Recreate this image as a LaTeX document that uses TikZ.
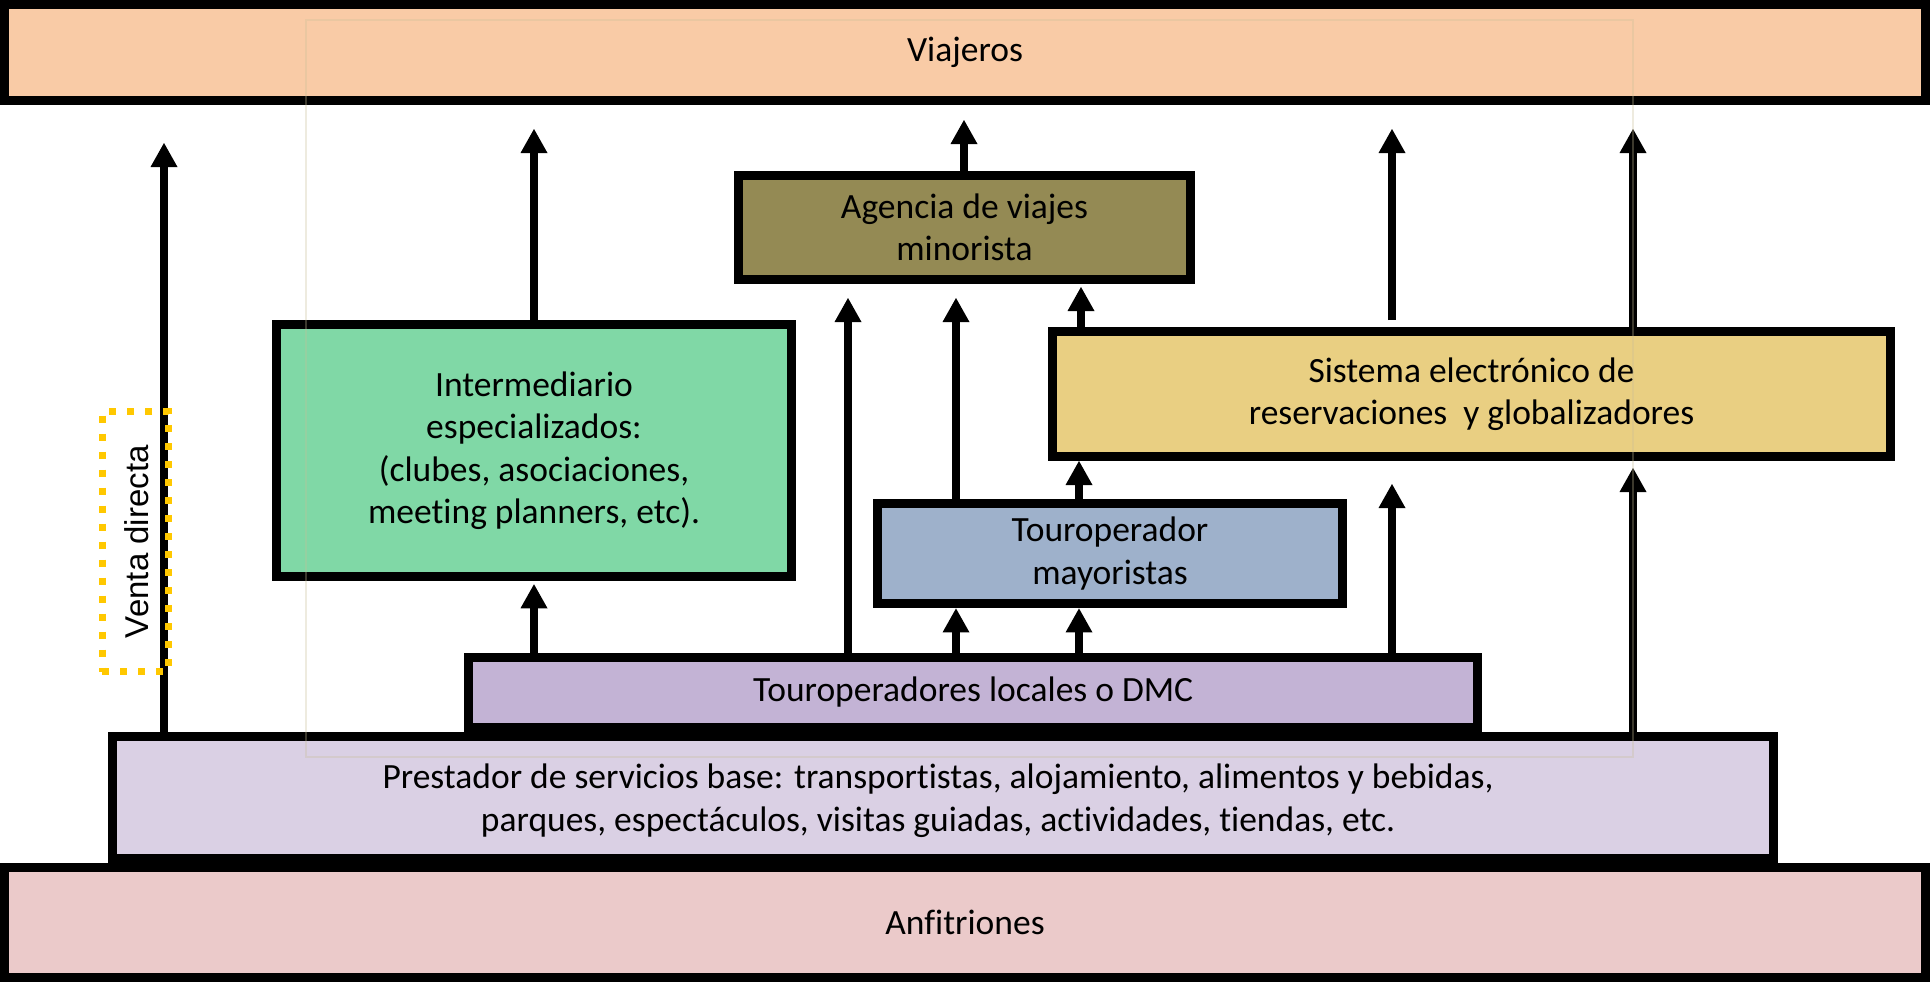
\documentclass[tikz,border=0pt]{standalone}
\usepackage{fontspec}
\setmainfont{Carlito}[Ligatures=NoCommon]
\newfontfamily\ventafont{Liberation Sans}
\usetikzlibrary{arrows.meta,calc}
\definecolor{cviaj}{HTML}{F9CBA6}
\definecolor{cagen}{HTML}{948A54}
\definecolor{cinter}{HTML}{80D8A6}
\definecolor{csist}{HTML}{E9CF82}
\definecolor{cmayor}{HTML}{9EB1CB}
\definecolor{cloc}{HTML}{C3B3D5}
\definecolor{cprest}{HTML}{DAD0E4}
\definecolor{canfi}{HTML}{EBCACA}
\definecolor{cventa}{HTML}{FFC800}
\definecolor{cfaint}{RGB}{200,190,150}
\begin{document}
\begin{tikzpicture}[x=1pt,y=-1pt,
  txt/.style={align=center,inner sep=0pt,text=black,font=\fontsize{35.5}{42.5}\selectfont},
  box/.style={draw=black,line width=9pt,txt},
  arr/.style={line width=8.5pt,-{Triangle[length=24pt,width=27pt,line width=0pt]}},
  ventabox/.style={draw=cventa,line width=7pt,dash pattern=on 7pt off 11pt},
]
\useasboundingbox (0,0) rectangle (1930,982);

% boxes
\node[box,fill=cviaj,minimum width=1921pt,minimum height=96pt] (viaj) at (965,52.5) {Viajeros};
\node[box,fill=cagen,minimum width=452pt,minimum height=104pt] (agen) at (964.5,227.5) {Agencia de viajes\\minorista};
\node[box,fill=cinter,minimum width=515pt,minimum height=251.5pt] (inter) at (534,450.5) {Intermediario\\especializados:\\(clubes, asociaciones,\\meeting planners, etc).};
\node[box,fill=csist,minimum width=838pt,minimum height=125pt] (sist) at (1471.5,394) {Sistema electrónico de\\reservaciones\ \ y globalizadores};
\node[box,fill=cmayor,minimum width=465pt,minimum height=100.5pt] (mayor) at (1110,553.7) {Touroperador\\mayoristas};
\node[box,fill=cprest,minimum width=1661pt,minimum height=122pt] (prest) at (943,797.5) {};
\node[txt] (prestt) at (938,800.5) {Prestador de servicios base: transportistas, alojamiento, alimentos y bebidas,\\parques, espectáculos, visitas guiadas, actividades, tiendas, etc.};
\node[box,fill=cloc,minimum width=1009.5pt,minimum height=70pt] (loc) at (973.2,692.5) {Touroperadores locales o DMC};
\node[box,fill=canfi,minimum width=1921pt,minimum height=110pt] (anfi) at (965,922.5) {Anfitriones};

% x positions of arrows
\coordinate (a1) at (164,0);
\coordinate (a2) at (534,0);
\coordinate (a3) at (964,0);
\coordinate (a4) at (1392,0);
\coordinate (a5) at (1633,0);
\coordinate (a6) at (848,0);
\coordinate (a7) at (956,0);
\coordinate (a8) at (1081,0);
\coordinate (a11) at (1079,0);

% arrows to Viajeros
\draw[arr] (prest.north -| a1) -- ($(viaj.south -| a1)+(0,38)$);
\draw[arr] (inter.north -| a2) -- ($(viaj.south -| a2)+(0,24)$);
\draw[arr] (agen.north -| a3) -- ($(viaj.south -| a3)+(0,15)$);
\draw[arr] ($(sist.north -| a4)+(0,-7)$) -- ($(viaj.south -| a4)+(0,24)$);
\draw[arr] (sist.north -| a5) -- ($(viaj.south -| a5)+(0,24)$);
% arrows to Agencia
\draw[arr] (loc.north -| a6) -- ($(agen.south -| a6)+(0,14)$);
\draw[arr] (mayor.north -| a7) -- ($(agen.south -| a7)+(0,14)$);
\draw[arr] (sist.north -| a8) -- ($(agen.south -| a8)+(0,3)$);
% arrows from locales
\draw[arr] (loc.north -| a2) -- ($(inter.south -| a2)+(0,3.5)$);
\draw[arr] (loc.north -| a7) -- (mayor.south -| a7);
\draw[arr] (loc.north -| a11) -- (mayor.south -| a11);
\draw[arr] (mayor.north -| a11) -- (sist.south -| a11);
\draw[arr] (loc.north -| a4) -- ($(sist.south -| a4)+(0,23)$);
\draw[arr] (prest.north -| a5) -- ($(sist.south -| a5)+(0,7)$);

% venta directa
\node[ventabox,minimum width=66pt,minimum height=260pt,inner sep=0pt] (vbox) at (135,541.5) {};
\node[rotate=90,anchor=base,inner sep=0pt,font=\ventafont\fontsize{33}{39}\selectfont] (venta) at (148,541.7) {Venta directa};

% faint frame
\draw[cfaint,line width=1.5pt,draw opacity=0.3] (306,20) rectangle (1633,757);
\end{tikzpicture}
\end{document}
